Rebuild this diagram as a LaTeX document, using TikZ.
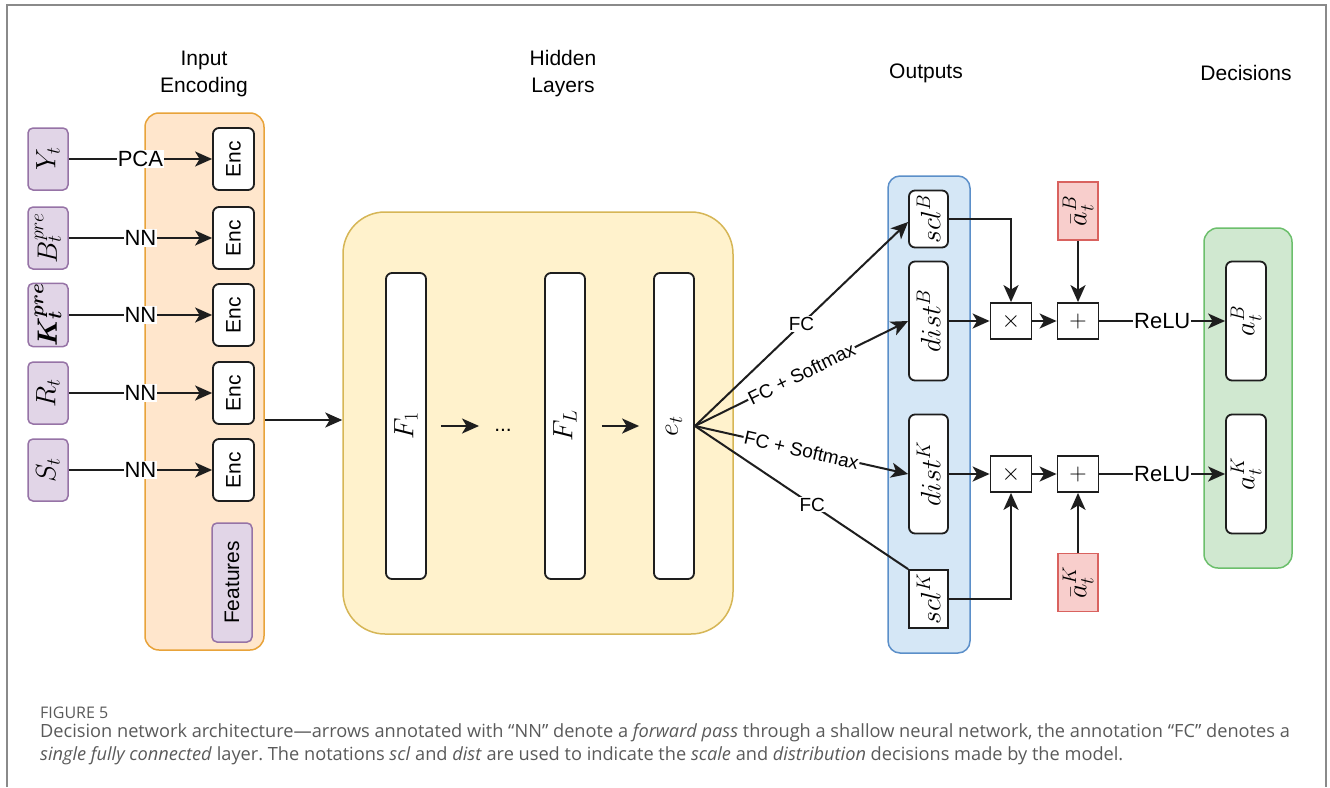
\RequirePackage{fix-cm}
\documentclass[tikz,border=0pt]{standalone}
\usepackage[no-math]{fontspec}
\setmainfont{Liberation Sans}
\newfontfamily\capfont{Open Sans}
\usepackage{bm}
\usetikzlibrary{arrows.meta}
\definecolor{inFill}{HTML}{E1D5E7}\definecolor{inDraw}{HTML}{9673A6}
\definecolor{orFill}{HTML}{FFE6CC}\definecolor{orDraw}{HTML}{E8A33A}
\definecolor{yeFill}{HTML}{FFF2CC}\definecolor{yeDraw}{HTML}{D6B656}
\definecolor{blFill}{HTML}{D5E7F6}\definecolor{blDraw}{HTML}{5B8FC9}
\definecolor{grFill}{HTML}{D0E8D0}\definecolor{grDraw}{HTML}{6CBF6C}
\definecolor{reFill}{HTML}{F8CECC}\definecolor{reDraw}{HTML}{D9625F}
\definecolor{lineCol}{HTML}{1E1E1E}
\definecolor{frameCol}{HTML}{8A8A8A}
\definecolor{capCol}{HTML}{5A5A5A}
\frenchspacing
\begin{document}
\begin{tikzpicture}[x=1pt,y=-1pt,
  sans/.style={font=\fontsize{21}{27}\selectfont},
  mth/.style={font=\fontsize{28}{32}\selectfont},
  inbox/.style={draw=inDraw, fill=inFill, line width=1.5, rounded corners=5, minimum width=40, minimum height=62, inner sep=0, mth},
  encbox/.style={draw=lineCol, fill=white, line width=1.8, rounded corners=6, minimum width=41, minimum height=62, inner sep=0, sans},
  layerbox/.style={draw=lineCol, fill=white, line width=1.8, rounded corners=6, minimum width=40, minimum height=306, inner sep=0, mth},
  outbox/.style={draw=lineCol, fill=white, line width=1.8, rounded corners=6, minimum width=39, inner sep=0, mth},
  opbox/.style={draw=lineCol, fill=white, line width=1.8, minimum width=41, minimum height=36, inner sep=0, font=\fontsize{24}{28}\selectfont},
  refbox/.style={draw=reDraw, fill=reFill, line width=1.5, minimum width=40, minimum height=58, inner sep=0, mth},
  container/.style={line width=1.5, inner sep=0},
  arr/.style={draw=lineCol, line width=2, -{Stealth[length=17,width=15,inset=4.5]}},
  plain/.style={draw=lineCol, line width=2},
  edgelab/.style={fill=white, inner sep=1, sans, font=\fontsize{22}{26}\selectfont},
  fclab/.style={fill=white, inner sep=1, sloped, font=\fontsize{19}{23}\selectfont},
  title/.style={align=center, sans}
]
\useasboundingbox (0,0) rectangle (1330,787);
\fill[white] (0,0) rectangle (1330,787);
\draw[frameCol, line width=1.5] (7,787) -- (7,5) -- (1326,5) -- (1326,787);

% titles
\node[title] (tIn) at (204,73.5) {Input\\Encoding};
\node[title] (tHid) at (563,73.5) {Hidden\\Layers};
\node[title] (tOut) at (926,73) {Outputs};
\node[title] (tDec) at (1246,73) {Decisions};

% containers
\node[container, draw=orDraw, fill=orFill, rounded corners=14, minimum width=119, minimum height=537] (inenc) at (204.5,381.5) {};
\node[container, draw=yeDraw, fill=yeFill, rounded corners=42, minimum width=390, minimum height=422] (hid) at (538,423) {};
\node[container, draw=blDraw, fill=blFill, rounded corners=12, minimum width=82, minimum height=477] (outs) at (929,414.5) {};
\node[container, draw=grDraw, fill=grFill, rounded corners=14, minimum width=88, minimum height=340] (decs) at (1248,398) {};

% inputs
\node[inbox] (Y) at (48,159) {\rotatebox{90}{$Y_t$}};
\node[inbox] (B) at (48,238) {\rotatebox{90}{$B_t^{pre}$}};
\node[inbox] (K) at (48,315) {\rotatebox{90}{$\bm{K_t^{pre}}$}};
\node[inbox] (R) at (48,393) {\rotatebox{90}{$R_t$}};
\node[inbox] (S) at (48,470) {\rotatebox{90}{$S_t$}};

% encoders
\node[encbox] (eY) at (233.5,159) {\rotatebox{90}{Enc}};
\node[encbox] (eB) at (233.5,238) {\rotatebox{90}{Enc}};
\node[encbox] (eK) at (233.5,315) {\rotatebox{90}{Enc}};
\node[encbox] (eR) at (233.5,393) {\rotatebox{90}{Enc}};
\node[encbox] (eS) at (233.5,470) {\rotatebox{90}{Enc}};
\node[inbox, sans, minimum height=119] (feat) at (232,582.5) {\rotatebox{90}{Features}};

% hidden layers
\node[layerbox] (F1) at (406,426) {\rotatebox{90}{$F_1$}};
\node[layerbox] (FL) at (565,426) {\rotatebox{90}{$F_L$}};
\node[layerbox] (et) at (674,426) {\rotatebox{90}{$e_t$}};
\node[sans, inner sep=0] (dots) at (503,430) {...};

% outputs
\node[outbox, minimum height=57] (sclB) at (928.5,219) {\rotatebox{90}{$scl^B$}};
\node[outbox, minimum height=119] (distB) at (928.5,321) {\rotatebox{90}{$dist^B$}};
\node[outbox, minimum height=119] (distK) at (928.5,474) {\rotatebox{90}{$dist^K$}};
\node[outbox, rounded corners=0, minimum height=58] (sclK) at (928.5,599) {\rotatebox{90}{$scl^K$}};

% operators
\node[opbox] (mulB) at (1011,321) {$\times$};
\node[opbox] (plusB) at (1078,321) {$+$};
\node[opbox] (mulK) at (1011,474) {$\times$};
\node[opbox] (plusK) at (1078,474) {$+$};
\node[refbox] (abB) at (1078,211) {\rotatebox{90}{$\bar{a}_t^B$}};
\node[refbox] (abK) at (1078,582.5) {\rotatebox{90}{$\bar{a}_t^K$}};

% decisions
\node[outbox, minimum width=40, minimum height=119] (aB) at (1246,321) {\rotatebox{90}{$a_t^B$}};
\node[outbox, minimum width=40, minimum height=119] (aK) at (1246,474) {\rotatebox{90}{$a_t^K$}};

% input edges
\draw[arr] (Y) -- node[edgelab]{PCA} (eY);
\draw[arr] (B) -- node[edgelab]{NN} (eB);
\draw[arr] (K) -- node[edgelab]{NN} (eK);
\draw[arr] (R) -- node[edgelab]{NN} (eR);
\draw[arr] (S) -- node[edgelab]{NN} (eS);
\draw[arr] (inenc.east |- 0,420) -- (hid.west |- 0,420);

% hidden edges
\draw[arr, shorten <=14, shorten >=15] (F1.east) -- (F1.east -| dots.west);
\draw[arr, shorten <=16, shorten >=14] (FL.east) -- (et.west);

% fan out
\draw[arr] (et.east) -- node[fclab, sloped=false]{FC} (sclB.west |- 0,222);
\draw[arr] (et.east) -- node[fclab]{FC + Softmax} (distB.west);
\draw[arr] (et.east) -- node[fclab]{FC + Softmax} (distK.west);
\draw[plain] (et.east) -- node[fclab, sloped=false, pos=0.55]{FC} (sclK.north west);

% output ops
\draw[arr] (sclB.east) -| (mulB.north);
\draw[arr] (distB.east |- mulB) -- (mulB.west);
\draw[arr] (mulB) -- (plusB);
\draw[arr] (abB) -- (plusB);
\draw[arr] (plusB) -- node[edgelab]{ReLU} (aB.west |- plusB);
\draw[arr] (sclK.east) -| (mulK.south);
\draw[arr] (distK.east |- mulK) -- (mulK.west);
\draw[arr] (mulK) -- (plusK);
\draw[arr] (abK) -- (plusK);
\draw[arr] (plusK) -- node[edgelab]{ReLU} (aK.west |- plusK);

% caption
\node[anchor=base west, inner sep=0, text=capCol, font=\capfont\fontsize{16}{18}\selectfont] (capHead) at (40,718) {FIGURE 5};
\node[anchor=base west, inner sep=0, text=capCol, font=\capfont\fontsize{18.2}{22}\selectfont] (capL1) at (40,737)
{Decision network architecture—arrows annotated with “NN” denote a \emph{forward pass} through a shallow neural network, the annotation “FC” denotes a};
\node[anchor=base west, inner sep=0, text=capCol, font=\capfont\fontsize{18.2}{22}\selectfont] (capL2) at (40,760)
{\emph{single fully connected} layer. The notations \emph{scl} and \emph{dist} are used to indicate the \emph{scale} and \emph{distribution} decisions made by the model.};
\end{tikzpicture}
\end{document}
